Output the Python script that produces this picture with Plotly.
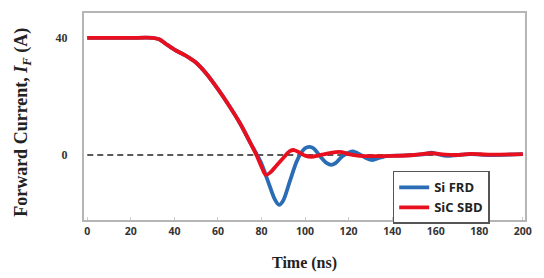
import plotly.graph_objects as go

# Time (ns) and forward current (A)
t_si = [0, 10, 20, 30, 33, 36, 40, 45, 50, 55, 60, 65, 70, 75, 78, 80, 83, 86, 88, 90, 93, 96, 98,
        100, 102, 104, 107, 110, 112, 114, 117, 120, 122, 125, 128, 131, 134, 138, 145, 150, 155,
        158, 161, 165, 170, 176, 185, 200]
i_si = [40, 40, 40, 40, 39.5, 38, 36, 34, 31.5, 27.5, 22.5, 17, 11, 4, 0, -3, -9, -15, -17, -15.5,
        -9, -2.5, 0.5, 2.3, 2.8, 2.2, -0.5, -2.8, -3.4, -2.8, -0.5, 0.8, 1.2, 0.3, -1, -1.7, -1,
        -0.3, -0.2, 0, 0.3, 0.8, 0.3, -0.3, 0, 0.3, 0, 0.3]

t_sic = [0, 10, 20, 30, 33, 36, 40, 45, 50, 55, 60, 65, 70, 75, 78, 80, 82, 84, 87, 90, 93, 95, 97,
         100, 103, 106, 110, 114, 117, 120, 125, 130, 140, 150, 158, 162, 170, 176, 185, 200]
i_sic = [40, 40, 40, 40, 39.5, 38, 36, 34, 31.5, 27.5, 22.5, 17, 11, 4, -0.5, -4, -6.8, -6, -3.5,
         -1, 1.3, 1.7, 1, -0.2, -0.6, -0.2, 0.5, 1, 1, 0.3, -0.3, -0.4, -0.3, 0, 0.6, 0.3, 0, 0.4,
         0.1, 0.3]

x_ticks = [0, 20, 40, 60, 80, 100, 120, 140, 160, 180, 200]
y_ticks = [0, 40]

fig = go.Figure()
fig.add_trace(go.Scatter(x=[0, 200], y=[0, 0], mode="lines", showlegend=False,
                         line=dict(color="#222222", width=1.5, dash="6px,4px"), hoverinfo="skip"))
fig.add_trace(go.Scatter(x=t_si, y=i_si, mode="lines", name="Si FRD",
                         line=dict(color="#2a6db5", width=3.8, shape="spline", smoothing=0.8)))
fig.add_trace(go.Scatter(x=t_sic, y=i_sic, mode="lines", name="SiC SBD",
                         line=dict(color="#e8101f", width=3.8, shape="spline", smoothing=0.8)))

fig.update_layout(
    width=544, height=278,
    margin=dict(l=84, r=19, t=13, b=58),
    paper_bgcolor="white", plot_bgcolor="white",
    showlegend=True,
    legend=dict(x=0.70, y=0.237, xanchor="left", yanchor="top",
                bordercolor="#555555", borderwidth=1.5, bgcolor="white",
                font=dict(family="Open Sans", size=13, color="#222222", weight="bold"),
                itemwidth=30, tracegroupgap=0),
    xaxis=dict(range=[-1.5, 201], tickvals=x_ticks, showgrid=False, zeroline=False,
               showline=True, mirror=True, linecolor="#b5b5b5", linewidth=2,
               ticks="inside", ticklen=3, tickcolor="#cccccc",
               tickfont=dict(family="Open Sans", size=10.5, color="#333333", weight="bold")),
    yaxis=dict(range=[-22.2, 48.5], tickvals=y_ticks, showgrid=False, zeroline=False,
               showline=True, mirror=True, linecolor="#b5b5b5", linewidth=2,
               ticks="", ticklabelstandoff=12,
               tickfont=dict(family="Liberation Serif", size=12, color="#333333", weight="bold")),
    annotations=[
        dict(text="Time (ns)", x=0.5, y=-0.208, xref="paper", yref="paper",
             xanchor="center", yanchor="middle", showarrow=False,
             font=dict(family="Liberation Serif", size=16, color="#222222", weight="bold")),
        dict(text="Forward Current, <i>I</i><sub><i>F</i></sub> (A)", x=-0.138, y=0.47,
             xref="paper", yref="paper", showarrow=False, textangle=-90,
             xanchor="center", yanchor="middle",
             font=dict(family="Liberation Serif", size=18, color="#222222", weight="bold")),
    ],
)

fig.write_html("out.html")
